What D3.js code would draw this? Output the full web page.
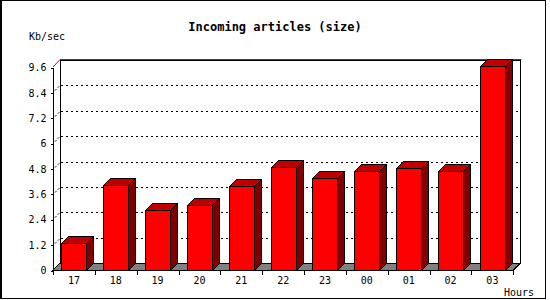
<!DOCTYPE html>
<html>
<head>
<meta charset="utf-8">
<script src="https://cdn.jsdelivr.net/npm/d3@7"></script>
<style>
  body { margin: 0; background: #fff; }
  text { font-family: "DejaVu Sans Mono", monospace; font-size: 10px; fill: #000; }
</style>
</head>
<body>
<div id="chart"></div>
<script>
// Data
var hours = ["17", "18", "19", "20", "21", "22", "23", "00", "01", "02", "03"];
var kbps = [1.26, 4.0, 2.82, 3.06, 3.96, 4.86, 4.34, 4.67, 4.81, 4.67, 9.65];
var yTicks = [0, 1.2, 2.4, 3.6, 4.8, 6, 7.2, 8.4, 9.6];

var svgWidth = 550;
var svgHeight = 300;
var depth = 7;      // 3d offset
var barW = 25;

var svg = d3.select("#chart")
  .append("svg")
  .attr("width", svgWidth)
  .attr("height", svgHeight)
  .attr("shape-rendering", "crispEdges");

// outer frame
svg.append("rect")
  .attr("x", 0.5).attr("y", 0.5)
  .attr("width", 545).attr("height", 298)
  .attr("fill", "#fff")
  .attr("stroke", "#000");
svg.append("line")
  .attr("x1", 1.5).attr("x2", 1.5).attr("y1", 0).attr("y2", 299)
  .attr("stroke", "#000");

// Scales
var x = d3.scaleBand()
  .domain(hours)
  .range([53, 513.3])
  .padding(0);

var y = d3.scaleLinear()
  .domain([0, 9.6])
  .range([270, 67]);

var x0 = 53, x1 = 513.3;
var yTop = y(9.6), yBase = y(0);

// back wall + floor
svg.append("polygon")
  .attr("points", [[x0, yBase], [x0 + depth, yBase - depth], [x1 + depth, yBase - depth], [x1, yBase]].join(" "))
  .attr("fill", "#808080")
  .attr("stroke", "#000");

svg.append("line")
  .attr("x1", x0 + depth + 0.5).attr("x2", x0 + depth + 0.5)
  .attr("y1", yTop - depth).attr("y2", yBase - depth)
  .attr("stroke", "#000");
svg.append("line")
  .attr("x1", x1 + depth + 0.5).attr("x2", x1 + depth + 0.5)
  .attr("y1", yTop - depth).attr("y2", yBase - depth)
  .attr("stroke", "#000");

// dotted grid on back wall and the short diagonals
var grid = svg.append("g")
  .attr("stroke", "#000")
  .attr("stroke-dasharray", "2,3");
grid.selectAll("line.h")
  .data(yTicks.slice(1, -1))
  .enter()
  .append("line")
  .attr("class", "h")
  .attr("x1", x0 + depth + 1)
  .attr("x2", x1 + depth)
  .attr("y1", d => Math.round(y(d)) - depth + 0.5)
  .attr("y2", d => Math.round(y(d)) - depth + 0.5);
grid.selectAll("line.d")
  .data(yTicks.slice(1, -1))
  .enter()
  .append("line")
  .attr("class", "d")
  .attr("shape-rendering", "auto")
  .attr("stroke-dasharray", "2,2")
  .attr("x1", x0 + 2)
  .attr("x2", x0 + depth)
  .attr("y1", d => Math.round(y(d)) - 1.5)
  .attr("y2", d => Math.round(y(d)) - depth + 0.5);

// top edge: black line with red line above it
svg.append("line")
  .attr("x1", x0 + depth).attr("x2", x1 + depth + 1)
  .attr("y1", yTop - depth + 0.5).attr("y2", yTop - depth + 0.5)
  .attr("stroke", "#000");
svg.append("polyline")
  .attr("points", [[x0, yTop], [x0 + depth, yTop - depth - 0.5], [x1 + depth + 1, yTop - depth - 0.5]].join(" "))
  .attr("fill", "none")
  .attr("shape-rendering", "auto")
  .attr("stroke", "#e00000");

// bars
var bars = svg.selectAll("g.bar")
  .data(kbps)
  .enter()
  .append("g")
  .attr("class", "bar")
  .attr("stroke", "#000")
  .attr("stroke-linejoin", "miter");

function left(i) { return Math.round(x(hours[i]) + x.bandwidth() / 2 - barW / 2) + 0.5; }

bars.append("polygon")
  .attr("points", (d, i) => {
    var l = left(i), t = Math.round(y(d)) + 0.5;
    return [[l, t], [l + depth, t - depth], [l + barW + depth, t - depth], [l + barW, t]].join(" ");
  })
  .attr("fill", "#c00000");

bars.append("polygon")
  .attr("points", (d, i) => {
    var l = left(i) + barW, t = Math.round(y(d)) + 0.5, b = Math.round(yBase) + 0.5;
    return [[l, t], [l + depth, t - depth], [l + depth, b - depth], [l, b]].join(" ");
  })
  .attr("fill", "#800000");

bars.append("rect")
  .attr("x", (d, i) => left(i))
  .attr("y", d => Math.round(y(d)) + 0.5)
  .attr("width", barW)
  .attr("height", d => Math.round(yBase) - Math.round(y(d)))
  .attr("fill", "#ff0000");

// Axes
var leftAxis = d3.axisLeft(y)
  .tickValues(yTicks)
  .tickFormat(d => String(d))
  .tickSize(3)
  .tickPadding(4);
var yAxis = svg.append("g")
  .attr("transform", `translate(${x0 + 0.5}, 0.5)`)
  .call(leftAxis);
yAxis.select(".domain").attr("d", `M0,${yTop}V${yBase}`);
yAxis.selectAll("text").attr("dy", "0.32em").style("font-size", "10px").style("font-family", "DejaVu Sans Mono");

var bottomAxis = d3.axisBottom(x)
  .tickSize(0)
  .tickPadding(6);
var xAxis = svg.append("g")
  .attr("transform", `translate(0, ${Math.round(yBase) + 0.5})`)
  .call(bottomAxis);
xAxis.select(".domain").attr("d", `M${x0},0H${x1}`);
xAxis.selectAll("text").style("font-size", "10px").style("font-family", "DejaVu Sans Mono");

// tick marks at band boundaries
xAxis.selectAll("line.bound")
  .data(hours.map(h => x(h)).concat([x1]))
  .enter()
  .append("line")
  .attr("class", "bound")
  .attr("x1", d => Math.round(d) + 0.5)
  .attr("x2", d => Math.round(d) + 0.5)
  .attr("y1", 0)
  .attr("y2", 4)
  .attr("stroke", "#000");

// labels
svg.append("text")
  .attr("x", 275)
  .attr("y", 31)
  .attr("text-anchor", "middle")
  .style("font-size", "12px")
  .style("font-weight", "bold")
  .text("Incoming articles (size)");

svg.append("text")
  .attr("x", 29)
  .attr("y", 40)
  .text("Kb/sec");

svg.append("text")
  .attr("x", 504)
  .attr("y", 296)
  .text("Hours");
</script>
</body>
</html>
